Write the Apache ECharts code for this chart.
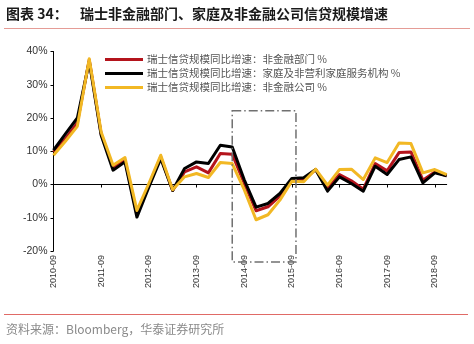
<!DOCTYPE html>
<html>
<head>
<meta charset="utf-8">
<script src="https://cdn.jsdelivr.net/npm/echarts@6/dist/echarts.min.js"></script>
<style>
  html, body { margin: 0; padding: 0; background: #ffffff; }
  #chart { width: 474px; height: 344px; }
</style>
</head>
<body>
<div id="chart"></div>
<script>
// Quarterly observations, 2010-09 to 2018-12 (YoY credit growth, %)
const quarters = [
  '2010-09','2010-12','2011-03','2011-06','2011-09','2011-12','2012-03','2012-06',
  '2012-09','2012-12','2013-03','2013-06','2013-09','2013-12','2014-03','2014-06',
  '2014-09','2014-12','2015-03','2015-06','2015-09','2015-12','2016-03','2016-06',
  '2016-09','2016-12','2017-03','2017-06','2017-09','2017-12','2018-03','2018-06',
  '2018-09','2018-12'
];

const nonFinSector = [
  9.8, 13.8, 18.5, 37.5, 15.2, 5.0, 7.3, -9.0,
  -0.3, 8.3, -1.8, 3.8, 5.3, 3.5, 9.3, 9.1,
  0.5, -7.9, -6.7, -3.5, 1.5, 1.5, 4.5, -1.2,
  3.0, 1.1, -1.4, 6.3, 4.1, 9.6, 9.8, 1.3,
  3.8, 2.6
];

const households = [
  10.3, 15.2, 20.0, 37.0, 14.8, 4.3, 6.8, -9.8,
  -0.8, 7.8, -1.8, 4.8, 6.8, 6.3, 11.8, 11.3,
  1.5, -6.8, -5.7, -2.7, 1.8, 2.0, 4.5, -2.0,
  2.3, 0.3, -2.0, 5.5, 3.0, 7.5, 8.3, 0.5,
  3.5, 2.6
];

const nonFinCorp = [
  8.8, 13.0, 17.5, 37.8, 15.8, 5.8, 8.1, -7.8,
  0.3, 8.8, -1.6, 2.3, 3.3, 2.1, 6.6, 6.3,
  -1.5, -10.6, -9.1, -4.7, 1.0, 0.8, 4.6, -0.2,
  4.5, 4.6, 1.5, 8.0, 6.6, 12.5, 12.3, 3.5,
  4.5, 3.0
];

const seriesNames = [
  '瑞士信贷规模同比增速：非金融部门 %',
  '瑞士信贷规模同比增速：家庭及非营利家庭服务机构 %',
  '瑞士信贷规模同比增速：非金融公司 %'
];

const yMin = -20, yMax = 40, yStep = 10;

// Highlighted period (2014-06 to just past 2015-09), value range in %
const boxFromIdx = 15, boxToIdx = 20.35;
const boxTop = 22.2, boxBottom = -23.3;

const cjk = '"Noto Sans CJK SC", "Liberation Sans", sans-serif';
const latin = '"Liberation Sans", Arial, sans-serif';

const chart = echarts.init(document.getElementById('chart'), null, { renderer: 'canvas' });

function lineSeries(name, data, color) {
  return {
    name: name,
    type: 'line',
    data: data,
    xAxisIndex: 0,
    yAxisIndex: 0,
    showSymbol: false,
    symbol: 'none',
    smooth: false,
    lineStyle: { color: color, width: 3, join: 'round' },
    itemStyle: { color: color },
    emphasis: { disabled: true },
    animation: false
  };
}

chart.setOption({
  animation: false,
  backgroundColor: '#ffffff',
  grid: { left: 53.5, right: 27.3, top: 51.5, bottom: 93, containLabel: false },
  legend: {
    orient: 'vertical',
    left: 100,
    top: 49,
    itemWidth: 38,
    itemHeight: 3,
    itemGap: 3,
    icon: 'rect',
    textStyle: { fontFamily: cjk, fontSize: 10.5, color: '#555555', lineHeight: 11, padding: [0, 0, 0, -1] },
    data: seriesNames
  },
  xAxis: [
    {
      type: 'category',
      data: quarters,
      boundaryGap: false,
      position: 'bottom',
      axisLine: { onZero: true, lineStyle: { color: '#000000', width: 1 } },
      axisTick: { show: true, interval: 3, length: 3, lineStyle: { color: '#000000' } },
      axisLabel: { show: false },
      splitLine: { show: false }
    },
    {
      type: 'category',
      data: quarters,
      boundaryGap: false,
      position: 'bottom',
      axisLine: { show: false, onZero: false },
      axisTick: { show: false },
      axisLabel: {
        show: true,
        interval: 3,
        rotate: 90,
        margin: 4,
        fontFamily: latin,
        fontSize: 9,
        color: '#333333'
      },
      splitLine: { show: false }
    }
  ],
  yAxis: {
    type: 'value',
    min: yMin,
    max: yMax,
    interval: yStep,
    axisLine: { show: true, lineStyle: { color: '#000000', width: 1 } },
    axisTick: { show: true, length: 3, lineStyle: { color: '#000000' } },
    axisLabel: {
      formatter: '{value}%',
      margin: 6,
      fontFamily: latin,
      fontSize: 10.5,
      color: '#333333'
    },
    splitLine: { show: false }
  },
  series: [
    lineSeries(seriesNames[0], nonFinSector, '#b4141c'),
    lineSeries(seriesNames[1], households, '#000000'),
    lineSeries(seriesNames[2], nonFinCorp, '#f2b824')
  ],
  graphic: [
    {
      id: 'titleNo', type: 'text', left: 6, top: 7,
      style: { text: '图表 34：', font: 'bold 14px ' + cjk, fill: '#1a1a1a' }
    },
    {
      id: 'titleText', type: 'text', left: 80, top: 7,
      style: { text: '瑞士非金融部门、家庭及非金融公司信贷规模增速', font: 'bold 14px ' + cjk, fill: '#1a1a1a' }
    },
    {
      id: 'ruleTop', type: 'line', silent: true,
      shape: { x1: 4, y1: 28.5, x2: 470, y2: 28.5 },
      style: { stroke: '#e59c96', lineWidth: 1 }
    },
    {
      id: 'ruleBottom', type: 'line', silent: true,
      shape: { x1: 4, y1: 314.5, x2: 468, y2: 314.5 },
      style: { stroke: '#e06a66', lineWidth: 1 }
    },
    {
      id: 'source', type: 'text', left: 6, top: 323,
      style: { text: '资料来源：Bloomberg，华泰证券研究所', font: '12px ' + cjk, fill: '#8a8a8a' }
    }
  ]
});

// Dash-dot box over the 2014–2015 period, placed through the axis scales
function xAt(idx) {
  const i0 = Math.floor(idx), frac = idx - i0;
  const a = chart.convertToPixel({ xAxisIndex: 0 }, quarters[i0]);
  if (frac === 0) return a;
  const b = chart.convertToPixel({ xAxisIndex: 0 }, quarters[i0 + 1]);
  return a + (b - a) * frac;
}
const bx1 = xAt(boxFromIdx), bx2 = xAt(boxToIdx);
const by1 = chart.convertToPixel({ yAxisIndex: 0 }, boxTop);
const by2 = chart.convertToPixel({ yAxisIndex: 0 }, boxBottom);

chart.setOption({
  graphic: [
    {
      id: 'periodBox', type: 'rect', silent: true, z: 10,
      shape: { x: bx1, y: by1, width: bx2 - bx1, height: by2 - by1 },
      style: { fill: 'none', stroke: '#707070', lineWidth: 1.5, lineDash: [9, 3, 1.5, 3] }
    }
  ]
});
</script>
</body>
</html>
